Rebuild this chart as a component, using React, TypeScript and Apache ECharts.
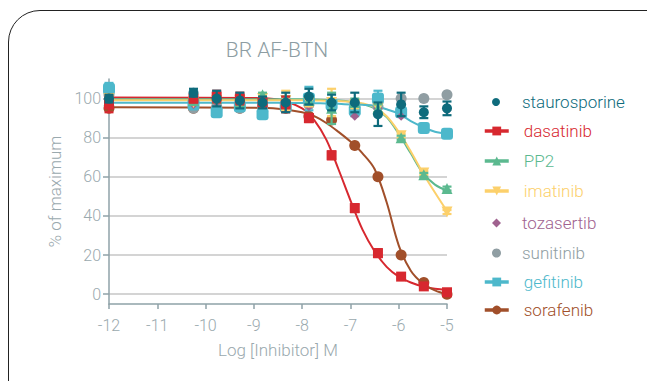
import React, { useEffect, useRef } from "react";
import * as echarts from "echarts";

// ---- data ----
const doses = [-12, -10.25, -9.77, -9.29, -8.82, -8.34, -7.86, -7.39, -6.91, -6.43, -5.95, -5.48, -5];

const staurosporine = [100, 103, 100, 99, 98, 98, 101, 98, 98, 92, 97, 93, 95];
const staurosporineErr = [2, 2, 4, 4, 3, 5, 4, 4, 5, 6, 6, 3, 3.5];
const dasatinib = [97, 100, 101, 100, 98, 97, 90, 71, 44, 21, 9, 4, 1];
const dasatinibErr = [4, 2, 3, 3, 2, 4, 2, 2, 2, 2, 1, 1, 1];
const pp2 = [99, 99, 100, 98, 102, 99, 99, 95, 98, 95, 80, 61, 54];
const pp2Err = [1, 1, 1, 1, 1, 2, 2, 8, 2, 2, 1, 1, 1];
const imatinib = [100, 98, 99, 99, 100, 99, 98, 98, 97, 95, 81, 62, 42];
const imatinibErr = [1, 1, 1, 1, 1, 5, 2, 7, 2, 2, 1, 1, 1];
const tozasertib = [98, 97, 98, 97, 97, 96, 96, 97, 91, 95, 91, 93, 94];
const sunitinib = [102, 95, 96, 95, 96, 96, 97, 98, 97, 96, 100, 100, 102];
const gefitinib = [105, 97, 93, 96, 92, 96, 100, 97, 94, 100, 93, 85, 82];
const gefitinibErr = [3, 1, 2, 1, 2, 2, 6, 2, 3, 4, 2, 2, 1];
const sorafenib = [95, 95, 95, 95, 96, 95, 91, 89, 76, 60, 20, 6, 0];

// fitted curves
const fitX = [-12, -9, -8.5, -8, -7.75, -7.5, -7.25, -7, -6.75, -6.5, -6.25, -6, -5.75, -5.5, -5.25, -5];
const dasatinibFit = [100.5, 100.3, 99.5, 95, 89, 79, 64, 48, 33, 22, 14, 9, 6, 4, 2.8, 2.2];
const pp2Fit = [99.7, 99.7, 99.7, 99.6, 99.5, 99.3, 99, 98.4, 97.2, 95, 90.5, 82, 72, 62, 56, 53];
const imatinibFit = [99.2, 99.2, 99.2, 99.1, 99, 98.9, 98.7, 98.4, 97.5, 95.5, 91, 83, 73, 62, 52, 42.5];
const gefitinibFit = [97.8, 97.8, 97.8, 97.7, 97.6, 97.5, 97.3, 97, 96.8, 96.3, 94.5, 92.3, 88.5, 85.5, 83, 82];
const sorafenibFit = [95.5, 95.3, 94.8, 93, 91, 87.5, 83, 78, 72, 64, 47, 25, 12, 5.5, 2, 0];

const yTicks = [0, 20, 40, 60, 80, 100];

const C = {
  staurosporine: "#0e6b7c",
  dasatinib: "#d7282f",
  pp2: "#5bb98f",
  imatinib: "#fcd06b",
  tozasertib: "#a0628f",
  sunitinib: "#909ea3",
  gefitinib: "#4db8cb",
  sorafenib: "#a14f2a",
};

const AXIS = "#8fa2a8";
const TEXT = "#9aa9ae";
const FONT = "Roboto";
const TRI_DOWN = "path://M0,0 L10,0 L5,9 Z";

function pairs(xs: number[], ys: number[]) {
  return xs.map((x, i) => [x, ys[i]]);
}

function errSeries(name: string, vals: number[], errs: number[], color: string, z: number) {
  return {
    type: "custom",
    name,
    z,
    color,
    encode: { x: 0, y: 1 },
    renderItem: (params: any, api: any) => {
      const x = api.value(0);
      const y = api.value(1);
      const e = api.value(2);
      const t = api.coord([x, y + e]);
      const b = api.coord([x, y - e]);
      const hw = 4.5;
      const st = { stroke: color, lineWidth: 2.2 };
      return {
        type: "group",
        children: [
          { type: "line", shape: { x1: t[0], y1: t[1], x2: b[0], y2: b[1] }, style: st },
          { type: "line", shape: { x1: t[0] - hw, y1: t[1], x2: t[0] + hw, y2: t[1] }, style: st },
          { type: "line", shape: { x1: b[0] - hw, y1: b[1], x2: b[0] + hw, y2: b[1] }, style: st },
        ],
      };
    },
    data: doses.map((d, i) => [d, vals[i], errs[i]]),
  };
}

function fitSeries(name: string, ys: number[], color: string, symbol: string) {
  return {
    type: "line",
    name,
    z: 2,
    data: pairs(fitX, ys),
    smooth: 0.35,
    showSymbol: false,
    symbol,
    color,
    lineStyle: { color, width: 2 },
  };
}

function dotSeries(name: string, ys: number[], color: string, symbol: string, size: number, z: number) {
  return {
    type: "scatter",
    name,
    z,
    data: pairs(doses, ys),
    symbol,
    symbolSize: size,
    color,
    itemStyle: { color, opacity: 1 },
  };
}

function legendBlock(
  names: string[],
  colors: string[],
  top: number,
  left: number,
  itemWidth: number,
  itemHeight: number,
  gap: number,
  pad: number
) {
  return {
    orient: "vertical",
    left,
    top,
    padding: 0,
    itemWidth,
    itemHeight,
    itemGap: gap,
    selectedMode: false,
    lineStyle: { width: 3.5 },
    textStyle: { fontFamily: FONT, fontSize: 17, fontWeight: 300, lineHeight: 18, padding: [0, 0, 0, pad] },
    data: names.map((n, i) => ({ name: n, textStyle: { color: colors[i] } })),
  };
}

export default function App() {
  const ref = useRef<HTMLDivElement>(null);
  useEffect(() => {
    document.body.style.margin = "0";
    const chart = echarts.init(ref.current!, null, { renderer: "svg" });
    chart.setOption({
      animation: false,
      backgroundColor: "#ffffff",
      title: {
        text: "BR AF-BTN",
        left: 272,
        textAlign: "center",
        top: 34,
        textStyle: { fontFamily: FONT, fontSize: 21, fontWeight: 300, color: "#8d9da3" },
      },
      legend: [
        legendBlock(["staurosporine"], [C.staurosporine], 93, 492, 8, 8, 12, 17),
        legendBlock(["dasatinib", "PP2", "imatinib"], [C.dasatinib, C.pp2, C.imatinib], 122, 483, 24, 11, 12, 10),
        legendBlock(["tozasertib", "sunitinib"], [C.tozasertib, C.sunitinib], 214, 492, 9, 9, 12, 16),
        legendBlock(["gefitinib", "sorafenib"], [C.gefitinib, C.sorafenib], 273, 483, 24, 11, 10, 10),
      ],
      grid: { left: 109, right: 200, top: 79, bottom: 77, containLabel: false },
      xAxis: {
        type: "value",
        min: -12,
        max: -5,
        interval: 1,
        name: "Log [Inhibitor] M",
        nameLocation: "middle",
        nameGap: 37,
        nameTextStyle: { fontFamily: FONT, fontSize: 17, fontWeight: 300, color: TEXT },
        axisLine: { show: true, onZero: false, lineStyle: { color: AXIS, width: 1.5 } },
        axisTick: { show: true, length: 5, lineStyle: { color: AXIS, width: 1.5 } },
        axisLabel: { fontFamily: FONT, fontSize: 16, fontWeight: 300, color: TEXT, margin: 13 },
        splitLine: { show: false },
      },
      yAxis: {
        type: "value",
        min: -5,
        max: 110,
        name: "% of maximum",
        nameLocation: "middle",
        nameGap: 46,
        nameTextStyle: { fontFamily: FONT, fontSize: 17, fontWeight: 300, color: TEXT },
        axisLine: { show: true, onZero: false, lineStyle: { color: AXIS, width: 1.5 } },
        axisTick: { show: true, length: 6, customValues: yTicks, lineStyle: { color: AXIS, width: 1.5 } },
        axisLabel: { fontFamily: FONT, fontSize: 16, fontWeight: 300, color: TEXT, margin: 8, customValues: yTicks },
        splitLine: { show: true, lineStyle: { color: "#d4d4d4", width: 2 } },
      },
      series: [
        fitSeries("dasatinib", dasatinibFit, C.dasatinib, "rect"),
        fitSeries("PP2", pp2Fit, C.pp2, "triangle"),
        fitSeries("imatinib", imatinibFit, C.imatinib, TRI_DOWN),
        fitSeries("gefitinib", gefitinibFit, C.gefitinib, "rect"),
        fitSeries("sorafenib", sorafenibFit, C.sorafenib, "circle"),
        dotSeries("staurosporine", staurosporine, C.staurosporine, "circle", 10, 10),
        dotSeries("sorafenib", sorafenib, C.sorafenib, "circle", 11, 3),
        dotSeries("sunitinib", sunitinib, C.sunitinib, "circle", 11, 4),
        errSeries("gefitinib", gefitinib, gefitinibErr, C.gefitinib, 5),
        dotSeries("gefitinib", gefitinib, C.gefitinib, "roundRect", 12, 5),
        dotSeries("tozasertib", tozasertib, C.tozasertib, "diamond", 9, 6),
        errSeries("imatinib", imatinib, imatinibErr, C.imatinib, 7),
        dotSeries("imatinib", imatinib, C.imatinib, TRI_DOWN, 11, 7),
        errSeries("PP2", pp2, pp2Err, C.pp2, 8),
        dotSeries("PP2", pp2, C.pp2, "triangle", 11, 8),
        errSeries("dasatinib", dasatinib, dasatinibErr, C.dasatinib, 9),
        dotSeries("dasatinib", dasatinib, C.dasatinib, "rect", 10, 9),
        errSeries("staurosporine", staurosporine, staurosporineErr, C.staurosporine, 10),
      ],
    });
    return () => chart.dispose();
  }, []);
  return (
    <div style={{ position: "relative", width: 647, height: 381, overflow: "hidden" }}>
      <div ref={ref} style={{ width: 647, height: 381 }} />
      <div
        style={{
          position: "absolute",
          left: 8,
          top: 10,
          width: 700,
          height: 1000,
          border: "1.2px solid #222",
          borderRadius: 32,
          pointerEvents: "none",
          boxSizing: "border-box",
        }}
      />
    </div>
  );
}
